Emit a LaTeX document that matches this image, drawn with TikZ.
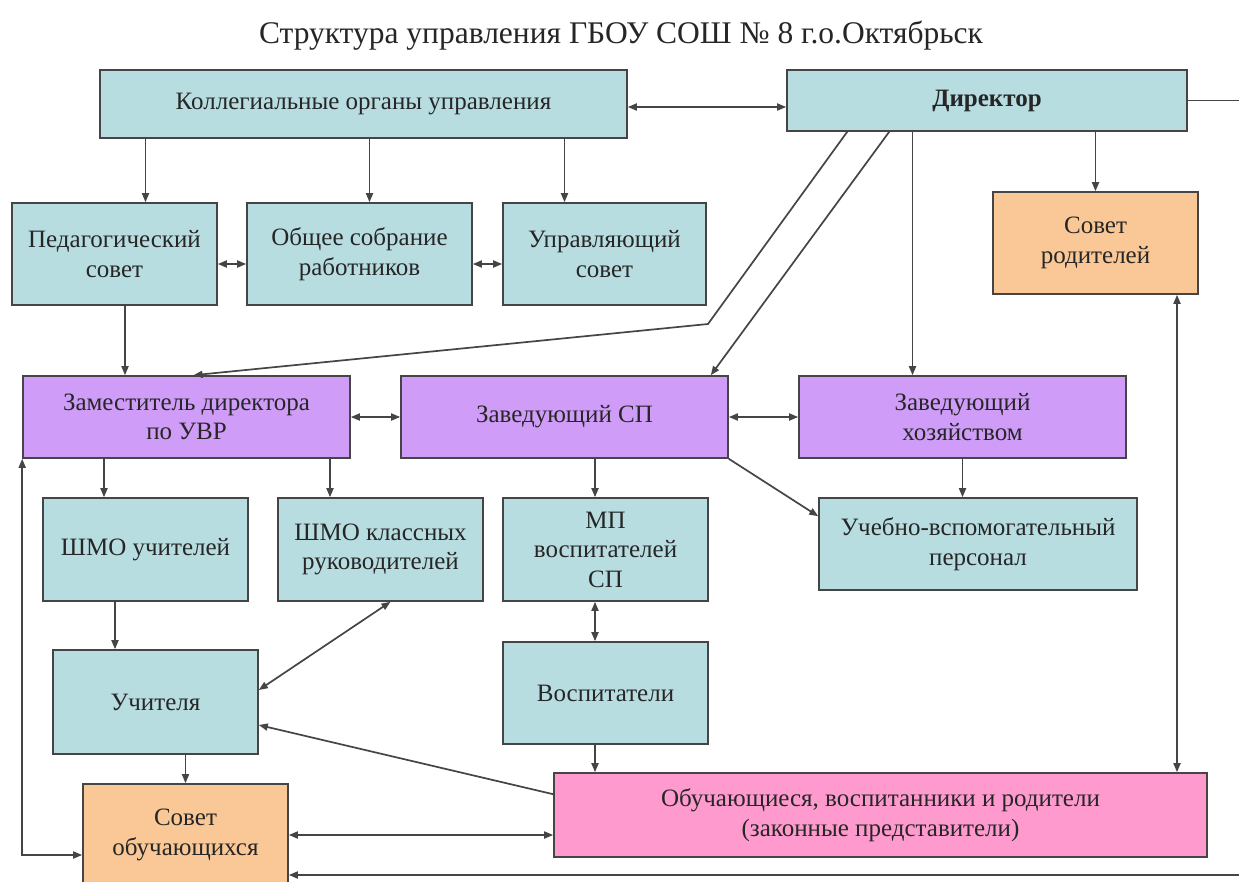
\documentclass[tikz,border=0pt]{standalone}
\usepackage{fontspec}
\setmainfont{Liberation Serif}
\usetikzlibrary{arrows.meta}
\definecolor{boxblue}{HTML}{B8DDE1}
\definecolor{boxviolet}{HTML}{CF9DF8}
\definecolor{boxpeach}{HTML}{FAC896}
\definecolor{boxpink}{HTML}{FF9ACE}
\definecolor{edge}{HTML}{454545}

\begin{document}
\begin{tikzpicture}[x=1pt, y=-1pt,
      every node/.style = {shape=rectangle, draw=edge, line width=1.6pt,
        align=center, inner sep=0pt, text=black!85,
        font=\fontsize{25}{29.5}\selectfont},
      wh/.style 2 args = {minimum width=#1pt, minimum height=#2pt},
      blbox/.style = {fill=boxblue},
      vlbox/.style = {fill=boxviolet},
      orbox/.style = {fill=boxpeach},
      pkbox/.style = {fill=boxpink},
      plain/.style = {draw=edge, line width=1.7pt},
      link/.style = {plain, -{Triangle[length=9pt,width=7pt]}},
      both/.style = {plain,
        {Triangle[length=9pt,width=7pt]}-{Triangle[length=9pt,width=7pt]}}]
  \useasboundingbox[fill=white] (0,0) rectangle (1239,881);
  \clip (0,0) rectangle (1239,881);

  \node[draw=none, font=\fontsize{31.5}{36}\selectfont] (title) at (621,36)
    {Структура управления ГБОУ СОШ № 8 г.о.Октябрьск};

  % top level
  \node[blbox, wh={527}{68}] (koll) at (363.5,104) {Коллегиальные органы управления};
  \node[blbox, wh={400}{61}] (dir) at (987,100.5) {\textbf{Директор}};
  \node[blbox, wh={205}{102}] (ped) at (114.5,254) {Педагогический\\совет};
  \node[blbox, wh={225}{102}] (obsh) at (359.5,254) {Общее собрание\\работников};
  \node[blbox, wh={203}{102}] (upr) at (604.5,254) {Управляющий\\совет};
  \node[orbox, wh={205}{102}] (sovrod) at (1095.5,243) {Совет\\родителей};

  % deputies
  \node[vlbox, wh={327}{82}] (zam) at (186.5,417) {Заместитель директора\\по УВР};
  \node[vlbox, wh={327}{82}] (zavsp) at (564.5,417) {Заведующий СП};
  \node[vlbox, wh={327}{82}] (zavhoz) at (962.5,417) {Заведующий\\хозяйством};

  % staff
  \node[blbox, wh={205}{103}] (shmou) at (145.5,549.5) {ШМО учителей};
  \node[blbox, wh={205}{103}] (shmok) at (380.5,549.5) {ШМО классных\\руководителей};
  \node[blbox, wh={205}{103}] (mp) at (605.5,549.5) {МП\\воспитателей\\СП};
  \node[blbox, wh={318}{92}] (uvp) at (978,544) {Учебно-вспомогательный\\персонал};
  \node[blbox, wh={205}{104}] (uch) at (155.5,702) {Учителя};
  \node[blbox, wh={205}{102}] (vosp) at (605.5,693) {Воспитатели};
  \node[orbox, wh={205}{102}] (sovob) at (185.5,835) {Совет\\обучающихся};
  \node[pkbox, wh={653}{84}] (pupils) at (880.5,815)
    {Обучающиеся, воспитанники и родители\\(законные представители)};

  \coordinate (bend) at (708,324);
  \coordinate (edgeA) at (1239,100.5);
  \coordinate (edgeB) at (1239,875);

  % connectors
  \draw[both] ([yshift=-3pt]koll.east) -- ([yshift=-3pt]koll.east -| dir.west);
  \draw[link] ([xshift=31pt]ped.north |- koll.south) -- ([xshift=31pt]ped.north);
  \draw[link] ([xshift=10pt]obsh.north |- koll.south) -- ([xshift=10pt]obsh.north);
  \draw[link] ([xshift=-40pt]upr.north |- koll.south) -- ([xshift=-40pt]upr.north);
  \draw[both] ([yshift=-10pt]ped.east) -- ([yshift=-10pt]obsh.west);
  \draw[both] ([yshift=-10pt]obsh.east) -- ([yshift=-10pt]upr.west);
  \draw[link] ([xshift=10.5pt]ped.south) -- ([xshift=10.5pt]ped.south |- zam.north);
  \draw[plain] (dir.east) -- (edgeA);
  \draw[link] ([xshift=61pt]dir.south west) -- (bend) -- ([xshift=7pt]zam.north);
  \draw[link] ([xshift=103pt]dir.south west) -- ([xshift=-18pt]zavsp.north east);
  \draw[link] ([xshift=-50pt]zavhoz.north |- dir.south) -- ([xshift=-50pt]zavhoz.north);
  \draw[link] (sovrod.north |- dir.south) -- (sovrod.north);
  \draw[both] ([xshift=81.5pt]sovrod.south) -- ([xshift=81.5pt]sovrod.south |- pupils.north);
  \draw[both] (zam.east) -- (zavsp.west);
  \draw[both] (zavsp.east) -- (zavhoz.west);
  \draw[link] ([xshift=-41.5pt]shmou.north |- zam.south) -- ([xshift=-41.5pt]shmou.north);
  \draw[link] ([xshift=-50.5pt]shmok.north |- zam.south) -- ([xshift=-50.5pt]shmok.north);
  \draw[link] ([xshift=-10.5pt]mp.north |- zavsp.south) -- ([xshift=-10.5pt]mp.north);
  \draw[link] (zavsp.south east) -- ([yshift=-19pt]uvp.north west);
  \draw[link] (zavhoz.south) -- (zavhoz.south |- uvp.north);
  \draw[link] ([xshift=-30.5pt]shmou.south) -- ([xshift=-30.5pt]shmou.south |- uch.north);
  \draw[both] ([yshift=12pt]uch.east) -- ([xshift=10pt]shmok.south);
  \draw[both] ([xshift=-10.5pt]mp.south) -- ([xshift=-10.5pt]vosp.north);
  \draw[link] ([xshift=-10.5pt]vosp.south) -- ([xshift=-10.5pt]vosp.south |- pupils.north);
  \draw[link] ([yshift=-22pt]pupils.north west) -- ([yshift=-23pt]uch.east);
  \draw[link] (sovob.north |- uch.south) -- (sovob.north);
  \draw[both] (sovob.east) -- (sovob.east -| pupils.west);
  \draw[both] ([yshift=-20pt]sovob.west) -| (zam.south west);
  \draw[link] (edgeB) -- (edgeB -| sovob.east);
\end{tikzpicture}
\end{document}
